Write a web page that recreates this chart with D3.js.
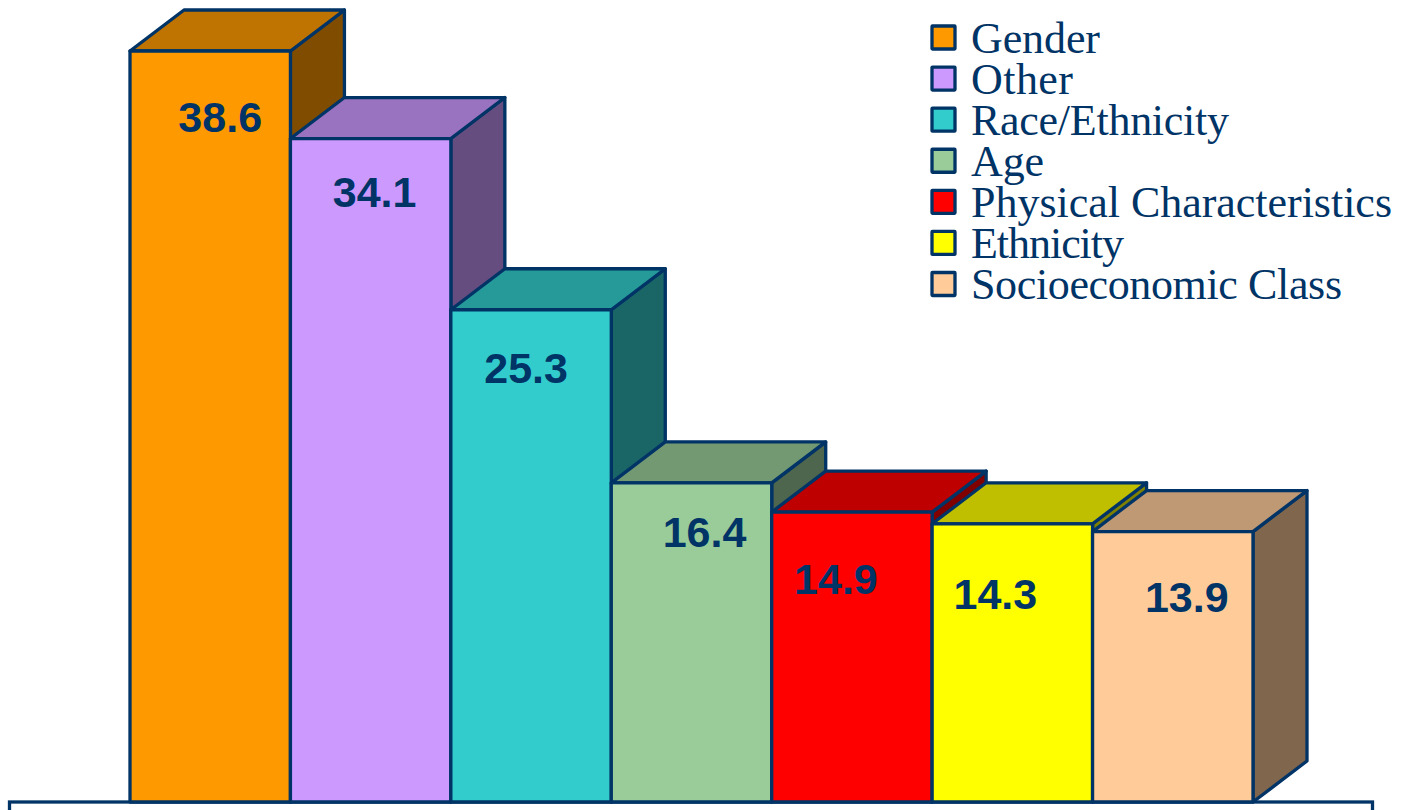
<!DOCTYPE html>
<html>
<head>
<meta charset="utf-8">
<script src="https://cdn.jsdelivr.net/npm/d3@7/dist/d3.min.js"></script>
<style>html,body{margin:0;padding:0;background:#fff;overflow:hidden}svg{display:block}</style>
</head>
<body>
<svg id="chart" width="1403" height="810"></svg>
<script>
const categories = ["Gender","Other","Race/Ethnicity","Age","Physical Characteristics","Ethnicity","Socioeconomic Class"];
const values = [38.6,34.1,25.3,16.4,14.9,14.3,13.9];
const colors = ["#FF9900","#CC99FF","#33CCCC","#99CC99","#FF0000","#FFFF00","#FFCC99"];
// label placement relative to each bar's centre (x) and top (y)
const labelDx = [10,4,-5,13,-16,-17,14];
const labelDy = [67,54,59,50,68,71,66.5];
// legend label widths as set in the reference
const legendWidths = [129,102,258,73,421,153,371];

const ink = "#003366", depthX = 54, depthY = -41, sw = 3.3;
const svg = d3.select("#chart");
const x = d3.scaleBand().domain(categories).range([130,1253]);
const y = d3.scaleLinear().domain([0,38.6]).range([802,51]);
const shade = (c,k) => { const r = d3.rgb(c); return d3.rgb(r.r*k,r.g*k,r.b*k).formatHex(); };
const poly = d3.line();

// frame below the bars
svg.append("rect").attr("x",9.5).attr("y",802).attr("width",1363).attr("height",30)
  .attr("fill","#fff").attr("stroke",ink).attr("stroke-width",sw);

const bars = svg.append("g").selectAll("g").data(categories).join("g");
bars.each(function(c,i){
  const g = d3.select(this), x0 = x(c), x1 = x0 + x.bandwidth(), y0 = y(0), yt = y(values[i]);
  const attrs = (s,fill) => s.attr("fill",fill).attr("stroke",ink).attr("stroke-width",sw).attr("stroke-linejoin","round");
  attrs(g.append("path").attr("d",poly([[x1,yt],[x1+depthX,yt+depthY],[x1+depthX,y0+depthY],[x1,y0]])+"Z"),shade(colors[i],0.5));
  attrs(g.append("path").attr("d",poly([[x0,yt],[x0+depthX,yt+depthY],[x1+depthX,yt+depthY],[x1,yt]])+"Z"),shade(colors[i],0.75));
  attrs(g.append("rect").attr("x",x0).attr("y",yt).attr("width",x.bandwidth()).attr("height",y0-yt),colors[i]);
});

svg.append("g").selectAll("text").data(categories).join("text")
  .attr("x",(c,i)=>x(c)+x.bandwidth()/2+labelDx[i])
  .attr("y",(c,i)=>y(values[i])+labelDy[i]+14)
  .attr("text-anchor","middle")
  .attr("font-family","'Liberation Sans',Arial,sans-serif")
  .attr("font-weight","bold").attr("font-size",43).attr("fill",ink)
  .text((c,i)=>values[i].toFixed(1));

// legend
const ly = d3.scalePoint().domain(categories).range([37.5,284]);
const legend = svg.append("g").selectAll("g").data(categories).join("g")
  .attr("transform",c=>`translate(0,${ly(c)})`);
legend.append("rect").attr("x",932).attr("y",-11.5).attr("width",23).attr("height",23)
  .attr("rx",0.5).attr("fill",(c,i)=>colors[i]).attr("stroke",ink).attr("stroke-width",sw);
legend.append("text").attr("x",971).attr("y",15)
  .attr("font-family","'Liberation Serif','Times New Roman',serif")
  .attr("font-size",44).attr("fill",ink)
  .attr("textLength",(c,i)=>legendWidths[i]).attr("lengthAdjust","spacing")
  .text(c=>c);
</script>
</body>
</html>
